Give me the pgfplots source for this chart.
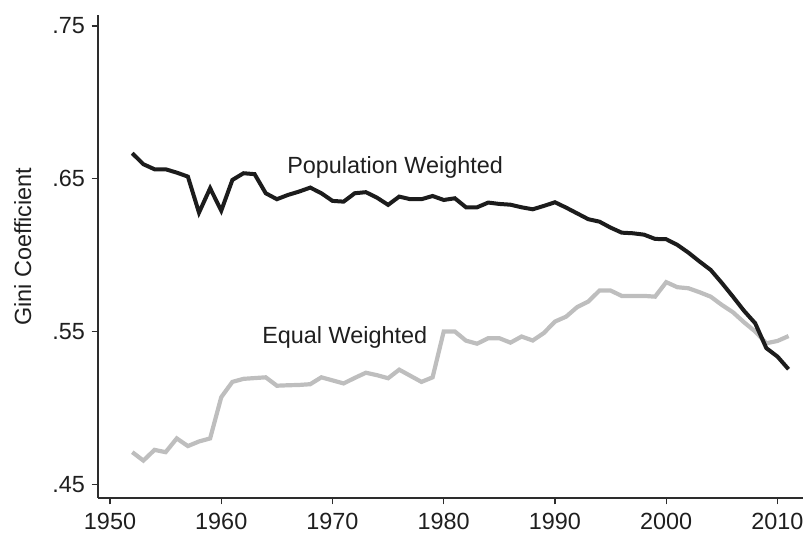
\documentclass[border=0pt]{standalone}
\usepackage{fontspec}
\setmainfont{Liberation Sans}
\usepackage{pgfplots}
\usepackage{pgfplotstable}
\pgfplotsset{compat=1.18}
\definecolor{popc}{RGB}{28,28,28}
\definecolor{eqc}{RGB}{190,190,190}
\definecolor{axc}{RGB}{45,45,45}
\pgfplotstableread{
year gini
1952 .6667
1953 .6595
1954 .6562
1955 .6562
1956 .6540
1957 .6514
1958 .6278
1959 .6438
1960 .6291
1961 .6492
1962 .6536
1963 .6530
1964 .6405
1965 .6366
1966 .6394
1967 .6416
1968 .6442
1969 .6405
1970 .6355
1971 .6350
1972 .6405
1973 .6412
1974 .6376
1975 .6329
1976 .6383
1977 .6366
1978 .6366
1979 .6387
1980 .6361
1981 .6372
1982 .6313
1983 .6313
1984 .6344
1985 .6335
1986 .6330
1987 .6313
1988 .6300
1989 .6322
1990 .6346
1991 .6311
1992 .6273
1993 .6235
1994 .6219
1995 .6180
1996 .6147
1997 .6143
1998 .6134
1999 .6106
2000 .6104
2001 .6067
2002 .6016
2003 .5958
2004 .5903
2005 .5818
2006 .5728
2007 .5635
2008 .5554
2009 .5391
2010 .5336
2011 .5253
}\popdata
\pgfplotstableread{
year gini
1952 .4710
1953 .4655
1954 .4725
1955 .4710
1956 .4800
1957 .4750
1958 .4780
1959 .4800
1960 .5070
1961 .5170
1962 .5190
1963 .5195
1964 .5200
1965 .5145
1966 .5148
1967 .5150
1968 .5155
1969 .5200
1970 .5180
1971 .5160
1972 .5196
1973 .5230
1974 .5214
1975 .5194
1976 .5250
1977 .5210
1978 .5170
1979 .5200
1980 .5500
1981 .5500
1982 .5440
1983 .5420
1984 .5456
1985 .5456
1986 .5427
1987 .5467
1988 .5441
1989 .5490
1990 .5565
1991 .5597
1992 .5660
1993 .5696
1994 .5768
1995 .5768
1996 .5733
1997 .5733
1998 .5733
1999 .5728
2000 .5823
2001 .5790
2002 .5783
2003 .5757
2004 .5728
2005 .5674
2006 .5626
2007 .5560
2008 .5500
2009 .5423
2010 .5438
2011 .5470
}\eqdata
\begin{document}
\begin{tikzpicture}[x=1bp,y=1bp]
\path[use as bounding box] (0,0) rectangle (804,538);
\begin{axis}[
  at={(98bp,40bp)}, anchor=south west,
  scale only axis, width=705bp, height=483bp,
  xmin=1948.92, xmax=2012.3, ymin=0.441, ymax=0.7572,
  axis lines*=left,
  axis line style={axc, line width=1.3bp, -},
  tick align=outside, major tick length=6.5bp,
  tick style={axc, line width=1.3bp},
  xtick={1950,1960,1970,1980,1990,2000,2010},
  xticklabels={1950,1960,1970,1980,1990,2000,2010},
  ytick={0.45,0.55,0.65,0.75},
  yticklabels={.45,.55,.65,.75},
  tick label style={font=\fontsize{23.5}{28}\selectfont, text=black!88},
  xticklabel style={yshift=-5bp},
  yticklabel style={xshift=-3bp},
  ylabel={Gini Coefficient},
  every axis y label/.style={at={(axis description cs:-0.095,0.52)}, rotate=90, anchor=base, font=\fontsize{23.5}{28}\selectfont, text=black!88},
  clip=false,
]
\addplot[eqc, line width=4.2bp] table[x=year, y=gini] {\eqdata};
\addplot[popc, line width=4bp] table[x=year, y=gini] {\popdata};
\node[anchor=base west, inner sep=0, font=\fontsize{23.5}{28}\selectfont, text=black!88] at (axis cs:1965.92,0.6536) {Population Weighted};
\node[anchor=base west, inner sep=0, font=\fontsize{23.5}{28}\selectfont, text=black!88] at (axis cs:1963.67,0.5423) {Equal Weighted};
\end{axis}
\end{tikzpicture}
\end{document}
